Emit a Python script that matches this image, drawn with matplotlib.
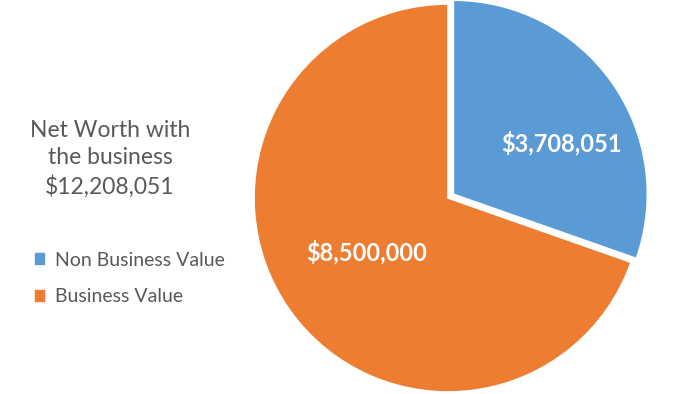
import matplotlib.pyplot as plt

# Data
categories = ["Non Business Value", "Business Value"]
values = [3708051, 8500000]
colors = ["#5B9BD5", "#ED7D31"]
total = sum(values)

plt.rcParams['font.family'] = ['Lato', 'DejaVu Sans']

fig = plt.figure(figsize=(6.82, 3.94), dpi=100)

# pie axes: square 400x400 px, centre at (448, 196) from bottom-left
ax = fig.add_axes([248 / 682, -4 / 394, 400 / 682, 400 / 394])
wedges, _ = ax.pie(values, colors=colors, startangle=90, counterclock=False,
                   radius=0.97, explode=[0.033, 0],
                   wedgeprops=dict(edgecolor="white", linewidth=1.2))
ax.set_xlim(-1, 1)
ax.set_ylim(-1, 1)
ax.set_aspect("auto")
ax.axis("off")

# value labels inside slices
label_pos = [(0.57, 0.275), (-0.405, -0.27)]
for (x, y), v in zip(label_pos, values):
    ax.text(x, y, "\\$" + f"{v:,}", color="white", fontsize=17, fontweight="bold",
            ha="center", va="center")

# title text on the left
fig.text(110 / 682, 1 - 159 / 394,
         "Net Worth with\nthe business\n\\$" + f"{total:,}",
         ha="center", va="center", fontsize=16.5, color="#595959", linespacing=1.38)

# legend
handles = [plt.Rectangle((0, 0), 1, 1, color=c) for c in colors]
fig.legend(handles, categories, loc="upper left",
           bbox_to_anchor=(17 / 682, 1 - 234 / 394), frameon=False,
           fontsize=14, labelcolor="#595959", handlelength=0.5, handleheight=0.5,
           handletextpad=0.55, labelspacing=1.0)

fig.savefig("out.png", dpi=100)
